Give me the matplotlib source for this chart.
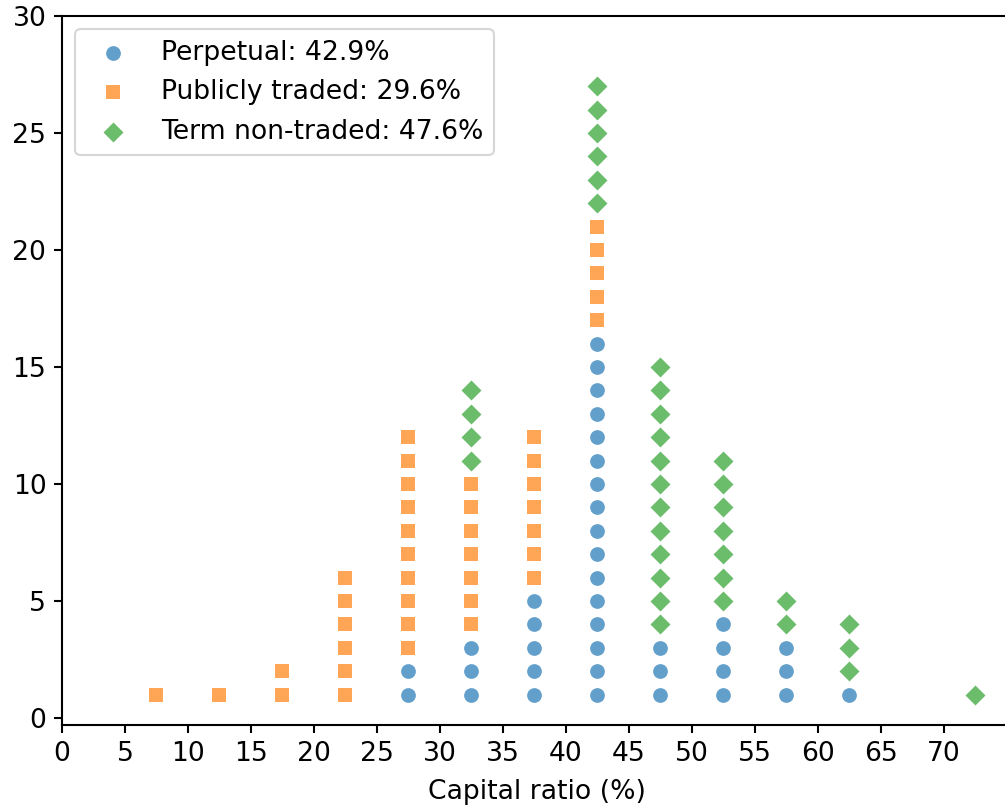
import numpy as np
import matplotlib
matplotlib.use('Agg')
import matplotlib.pyplot as plt

# bin centres (capital ratio, %) and stacked counts per group
bins = [7.5, 12.5, 17.5, 22.5, 27.5, 32.5, 37.5, 42.5, 47.5, 52.5, 57.5, 62.5, 67.5, 72.5]
perpetual = [0, 0, 0, 0, 2, 3, 5, 16, 3, 4, 3, 1, 0, 0]
publicly_traded = [1, 1, 2, 6, 10, 7, 7, 5, 0, 0, 0, 0, 0, 0]
term_non_traded = [0, 0, 0, 0, 0, 4, 0, 6, 12, 7, 2, 3, 0, 1]

labels = ['Perpetual: 42.9%', 'Publicly traded: 29.6%', 'Term non-traded: 47.6%']
markers = ['o', 's', 'D']
colors = ['tab:blue', 'tab:orange', 'tab:green']
sizes = [50, 50, 46]

plt.rcParams['font.size'] = 12.8
plt.rcParams['axes.linewidth'] = 1.0
plt.rcParams['xtick.major.width'] = 1.0
plt.rcParams['ytick.major.width'] = 1.0
plt.rcParams['xtick.major.size'] = 4
plt.rcParams['ytick.major.size'] = 4

fig = plt.figure(figsize=(6.7, 808 / 150), dpi=150)
ax = fig.add_axes([62 / 1005, 1 - 725 / 808, 950 / 1005, 709 / 808])

base = np.zeros(len(bins))
for counts, lab, mk, col, sz in zip([perpetual, publicly_traded, term_non_traded],
                                    labels, markers, colors, sizes):
    xs, ys = [], []
    for i, c in enumerate(counts):
        for k in range(c):
            xs.append(bins[i])
            ys.append(base[i] + k + 1)
    base += np.array(counts)
    ax.scatter(xs, ys, marker=mk, color=col, s=sz, alpha=0.7, linewidths=0, label=lab)

ax.set_xlim(0, 75.4)
ax.set_ylim(-0.3, 30)
ax.set_xticks(np.arange(0, 75, 5))
ax.set_yticks(np.arange(0, 31, 5))
ax.spines['right'].set_visible(False)
ax.set_xlabel('Capital ratio (%)', labelpad=6)
ax.legend(loc='upper left')

fig.savefig('out.png', dpi=150)
